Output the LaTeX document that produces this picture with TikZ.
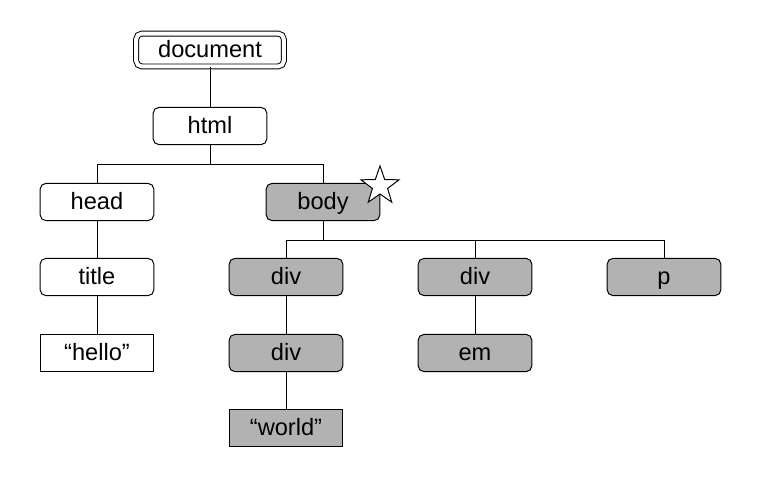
\documentclass[tikz,border=0pt]{standalone}
\usepackage{fontspec}
\setmainfont{Liberation Sans}
\usetikzlibrary{shapes.geometric}
\begin{document}
\begin{tikzpicture}[x=0.025cm, y=-0.025cm, line width=0.7pt,
    main/.style = {draw, rounded corners=4pt, minimum width=80.8pt, minimum height=26.4pt, inner sep=0pt, text height=13.4pt, text depth=2.4pt, font=\fontsize{16.8}{20}\selectfont},
    leaf/.style = {main, sharp corners},
    sel/.style = {fill={rgb,255:red,178;green,178;blue,178}},
    root/.style = {main, double, double distance=2.8pt, minimum width=105pt, minimum height=23.4pt}]

			\useasboundingbox (0,0) rectangle (760,480);

			\node[root] (doc) at (210,50) {document};
			\node[main] (html) at (210,126) {html};
			\node[main] (head) at (97,202) {head};
			\node[main, sel] (body) at (323,202) {body};
			\node[main] (title) at (97,277) {title};
			\node[leaf] (hello) at (97,353) {``hello''};
			\node[main, sel] (divA) at (286,277) {div};
			\node[main, sel] (divB) at (475,277) {div};
			\node[main, sel] (p) at (664,277) {p};
			\node[main, sel] (divC) at (286,353) {div};
			\node[main, sel] (em) at (475,353) {em};
			\node[leaf, sel] (world) at (286,428) {``world''};
			\node[star, star points=5, star point ratio=2.5, draw, fill=white, minimum size=1cm, inner sep=0pt] (mark) at (380,186) {};

			\draw (doc) -- (html);
			\draw (html.south) -- ++(0,19) -| (head.north);
			\draw (html.south) -- ++(0,19) -| (body.north);
			\draw (head) -- (title);
			\draw (title) -- (hello);
			\draw (body.south) -- ++(0,19) -| (divA.north);
			\draw (body.south) -- ++(0,19) -| (divB.north);
			\draw (body.south) -- ++(0,19) -| (p.north);
			\draw (divA) -- (divC);
			\draw (divC) -- (world);
			\draw (divB) -- (em);
		\end{tikzpicture}
\end{document}
